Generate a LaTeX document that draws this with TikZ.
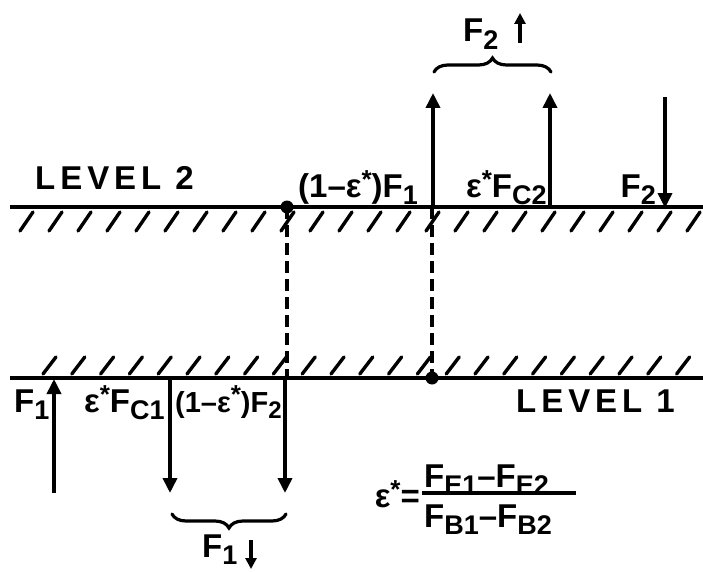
\documentclass[tikz,border=0pt]{standalone}
\usepackage{fontspec}
\usepackage{graphicx}
\setmainfont{Liberation Sans}[BoldFont={Liberation Sans Bold}]
\newfontfamily\widefont{Liberation Sans Bold}[LetterSpace=15]
\usetikzlibrary{arrows.meta,decorations.pathreplacing}
\newcommand\estar{ε\raisebox{9pt}{\fontsize{26}{26}\selectfont *}}
\newcommand\sbx[1]{\raisebox{-0.22em}{\fontsize{27}{27}\selectfont #1}}
\newcommand\sbxs[1]{\raisebox{-0.22em}{\fontsize{24}{24}\selectfont #1}}
\begin{document}
\begin{tikzpicture}[x=1pt,y=-1pt,
  lbl/.style={inner sep=0pt,font=\fontsize{33}{33}\selectfont\bfseries},
  ground/.style={line width=4pt},
  hatch/.style={line width=3.4pt,line cap=round},
  force/.style={line width=3.6pt,-{Triangle[length=15pt,width=14pt]}},
  smallarrow/.style={line width=3.2pt,-{Triangle[length=11pt,width=11pt]}},
  link/.style={line width=3.4pt,dash pattern=on 12pt off 6pt},
  bracestyle/.style={line width=3.2pt,line cap=round,decorate,decoration={brace,amplitude=14pt}},
]
\useasboundingbox (0,0) rectangle (703,572);

% ground lines
\coordinate (L2a) at (10,207); \coordinate (L2b) at (703,207);
\coordinate (L1a) at (10,378); \coordinate (L1b) at (703,378);
\draw[ground] (L2a) -- (L2b);
\draw[ground] (L1a) -- (L1b);
\foreach \i in {0,...,23} {
  \draw[hatch] ({20+29*\i},231) -- ({33+29*\i},212);
}
\foreach \i in {0,...,22} {
  \draw[hatch] ({43+28.8*\i},374) -- ({56+28.8*\i},357);
}

% junction dots and dashed links
\coordinate (dA) at (287,207); \coordinate (dB) at (287,378);
\coordinate (dC) at (432,207); \coordinate (dD) at (432,378);
\draw[link] (dA) -- (dB);
\draw[link] (dC) -- (dD);
\fill (dA) circle (6.5pt);
\fill (dD) circle (6.5pt);

% level 2 forces
\coordinate (u1b) at (433,207); \coordinate (u1t) at (433,93);
\coordinate (u2b) at (550,207); \coordinate (u2t) at (550,93);
\coordinate (d2t) at (665,97);  \coordinate (d2b) at (665,208);
\draw[force] (u1b) -- (u1t);
\draw[force] (u2b) -- (u2t);
\draw[force] (d2t) -- (d2b);

% level 1 forces
\coordinate (f1b) at (54,493); \coordinate (f1t) at (54,379);
\coordinate (c1t) at (170,378); \coordinate (c1b) at (170,493);
\coordinate (c2t) at (285,378); \coordinate (c2b) at (285,493);
\draw[force] (f1b) -- (f1t);
\draw[force] (c1t) -- (c1b);
\draw[force] (c2t) -- (c2b);

% braces
\coordinate (bA) at (434,72); \coordinate (bB) at (551,72);
\draw[bracestyle] (bA) -- (bB);
\coordinate (bC) at (286,514); \coordinate (bD) at (172,514);
\draw[bracestyle] (bC) -- (bD);

% labels level 2
\node[lbl,anchor=base west] (lev2) at (35,189) {\widefont LEVEL 2};
\node[lbl,anchor=base east] (g1) at (418,197) {(1–\estar)F\sbx{1}};
\node[lbl,anchor=base west] (g2) at (466,197) {\estar F\sbx{C2}};
\node[lbl,anchor=base east] (g3) at (656,197) {F\sbx{2}};
\node[lbl,anchor=base west] (top) at (463,42) {F\sbx{2}};
\coordinate (ta) at (520,43); \coordinate (tb) at (520,13);
\draw[smallarrow] (ta) -- (tb);

% labels level 1
\node[lbl,anchor=base east] (lev1) at (675,412) {\widefont LEVEL 1};
\node[lbl,anchor=base west] (h1) at (14,412) {F\sbx{1}};
\node[lbl,anchor=base west] (h2) at (84,412) {\estar F\sbx{C1}};
\node[lbl,anchor=base west,font=\fontsize{29}{29}\selectfont\bfseries] (h3) at (175,412) {(1–\estar)F\sbxs{2}};
\node[lbl,anchor=base west] (bot) at (202,557) {F\sbx{1}};
\coordinate (ba) at (251,540); \coordinate (bb) at (251,569);
\draw[smallarrow] (ba) -- (bb);

% formula
\node[lbl,anchor=base west] (num) at (424,487) {F\sbx{E1}–F\sbx{E2}};
\node[lbl,anchor=base west] (den) at (424,527) {F\sbx{B1}–F\sbx{B2}};
\coordinate (fa) at (422,493); \coordinate (fb) at (576,493);
\draw[line width=3.6pt] (fa) -- (fb);
\node[lbl,anchor=east] (eps) at (420,494) {\estar=};
\end{tikzpicture}
\end{document}
